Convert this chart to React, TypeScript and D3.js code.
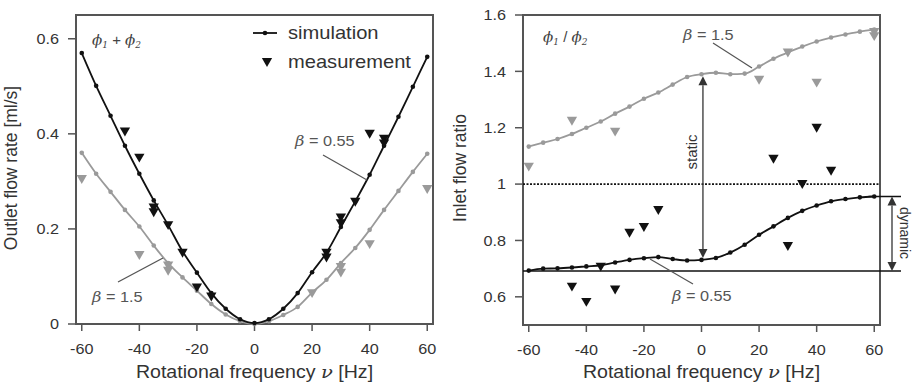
import * as d3 from "d3";

// rotational frequency samples for the simulations [Hz]
const freq = [-60, -55, -50, -45, -40, -35, -30, -25, -20, -15, -10, -5, 0, 5, 10, 15, 20, 25, 30, 35, 40, 45, 50, 55, 60];

// outlet flow rate phi1 + phi2 [ml/s]
const outSim055 = [0.57, 0.501, 0.438, 0.375, 0.316, 0.26, 0.208, 0.153, 0.108, 0.065, 0.032, 0.01, 0.002, 0.01, 0.032, 0.065, 0.109, 0.15, 0.204, 0.258, 0.314, 0.375, 0.436, 0.499, 0.562];
const outSim15 = [0.36, 0.316, 0.278, 0.24, 0.205, 0.165, 0.128, 0.098, 0.07, 0.042, 0.02, 0.006, 0.0, 0.006, 0.019, 0.036, 0.066, 0.093, 0.128, 0.16, 0.198, 0.24, 0.28, 0.32, 0.358];
const outMeasFreq055 = [-45, -40, -35, -35, -30, -25, -20, -15, 25, 25, 30, 30, 35, 40, 45, 45];
const outMeas055 = [0.405, 0.35, 0.245, 0.235, 0.208, 0.15, 0.077, 0.058, 0.15, 0.14, 0.224, 0.212, 0.257, 0.4, 0.39, 0.38];
const outMeasFreq15 = [-60, -40, -30, -30, 20, 30, 30, 40, 60];
const outMeas15 = [0.305, 0.145, 0.123, 0.112, 0.065, 0.12, 0.108, 0.168, 0.284];

// inlet flow ratio phi1 / phi2
const ratioSim15 = [1.133, 1.147, 1.16, 1.178, 1.2, 1.222, 1.25, 1.275, 1.303, 1.325, 1.353, 1.38, 1.39, 1.395, 1.39, 1.392, 1.417, 1.445, 1.467, 1.488, 1.506, 1.52, 1.531, 1.541, 1.548];
const ratioSim055 = [0.693, 0.7, 0.701, 0.704, 0.708, 0.712, 0.722, 0.731, 0.737, 0.741, 0.734, 0.729, 0.731, 0.738, 0.757, 0.785, 0.82, 0.85, 0.88, 0.905, 0.924, 0.939, 0.947, 0.953, 0.956];
const ratioMeasFreq15 = [-60, -45, -30, 20, 30, 40, 60, 60];
const ratioMeas15 = [1.062, 1.225, 1.186, 1.37, 1.467, 1.36, 1.525, 1.54];
const ratioMeasFreq055 = [-45, -40, -35, -30, -25, -20, -15, 25, 30, 35, 40, 45];
const ratioMeas055 = [0.636, 0.582, 0.707, 0.626, 0.827, 0.848, 0.908, 1.09, 0.78, 1.0, 1.2, 1.047];

const xTicks = [-60, -40, -20, 0, 20, 40, 60];
const outTicks = [0, 0.2, 0.4, 0.6];
const ratioTicks = [0.6, 0.8, 1, 1.2, 1.4, 1.6];

const BLACK = "#111";
const GRAY = "#9a9a9a";
const FRAME = "#555";
const TEXT = "#333";
const FONT = "'Liberation Sans', Arial, sans-serif";
const SERIF = "'DejaVu Serif', serif";
// the reference figure is a little wider than tall, so horizontal text gets stretched
const SX = 1.13;

const tri = d3.symbol(d3.symbolTriangle, 46)();

// horizontally stretched text
function HText({ x, y, size, anchor = "start", sx = SX, children, fill = TEXT, dy }: any) {
  return (
    <text transform={`translate(${x},${y}) scale(${sx},1)`} textAnchor={anchor} fontSize={size}
      fontFamily={FONT} fill={fill} dy={dy}>
      {children}
    </text>
  );
}

function Triangles({ xs, ys, x, y, color }: any) {
  return (
    <g fill={color}>
      {xs.map((v: number, i: number) => (
        <path key={i} d={tri!} transform={`translate(${x(v)},${y(ys[i]) - 1}) rotate(180)`} />
      ))}
    </g>
  );
}

function SimLine({ ys, x, y, color }: any) {
  const line = d3
    .line<number>()
    .x((_, i) => x(freq[i]))
    .y((d) => y(d))
    .curve(d3.curveMonotoneX);
  return (
    <g>
      <path d={line(ys)!} fill="none" stroke={color} strokeWidth={1.8} />
      {ys.map((v: number, i: number) => (
        <circle key={i} cx={x(freq[i])} cy={y(v)} r={2.3} fill={color} />
      ))}
    </g>
  );
}

function Frame({ x, y, ticks, fmt, left, right, top, bottom, title, titleX, titleY }: any) {
  return (
    <g>
      <rect x={left} y={top} width={right - left} height={bottom - top} fill="none" stroke={FRAME} strokeWidth={2} />
      {xTicks.map((t) => (
        <g key={t}>
          <line x1={x(t)} x2={x(t)} y1={bottom} y2={bottom + 7} stroke={FRAME} strokeWidth={1.5} />
          <HText x={x(t)} y={bottom + 30} size={15} anchor="middle" sx={1.08}>{t}</HText>
        </g>
      ))}
      {ticks.map((t: number) => (
        <g key={t}>
          <line x1={left - 8} x2={left} y1={y(t)} y2={y(t)} stroke={FRAME} strokeWidth={1.5} />
          <HText x={left - 17} y={y(t)} dy="0.35em" size={15} anchor="end" sx={1.08}>{fmt(t)}</HText>
        </g>
      ))}
      <HText x={(left + right) / 2} y={378} size={17.5} anchor="middle" sx={1.12}>
        Rotational frequency <tspan fontStyle="italic" fontFamily={SERIF}>ν</tspan> [Hz]
      </HText>
      <text transform={`translate(${titleX},${titleY}) rotate(-90)`} textAnchor="middle" fontSize={17.5}
        fontFamily={FONT} fill={TEXT}>
        {title}
      </text>
    </g>
  );
}

function Beta({ x, y, value }: any) {
  return (
    <HText x={x} y={y} size={15.5} fill="#555" dy="0.35em" sx={1.05}>
      <tspan fontStyle="italic" fontFamily={SERIF}>β</tspan> = {value}
    </HText>
  );
}

function Phi({ x, y, op }: any) {
  return (
    <text x={x} y={y} fontFamily={SERIF} fontSize={15} fill="#444" fontStyle="italic">
      ϕ<tspan fontSize={9} dy={3}>1</tspan>
      <tspan dy={-3} fontStyle="normal" fontFamily={FONT}> {op} </tspan>ϕ<tspan fontSize={9} dy={3}>2</tspan>
    </text>
  );
}

function Arrow({ x, y1, y2, color }: any) {
  const h = 9;
  const w = 4.5;
  return (
    <g fill={color} stroke={color}>
      <line x1={x} x2={x} y1={y1 + h} y2={y2 - h} strokeWidth={1.3} />
      <path d={`M${x},${y1}L${x - w},${y1 + h}L${x + w},${y1 + h}Z`} stroke="none" />
      <path d={`M${x},${y2}L${x - w},${y2 - h}L${x + w},${y2 - h}Z`} stroke="none" />
    </g>
  );
}

export default function App() {
  const top = 15;
  const bottom = 324;

  const xL = d3.scaleLinear().domain([-62, 62]).range([76, 433]);
  const yL = d3.scaleLinear().domain([0, 0.65]).range([bottom, top]);
  const xR = d3.scaleLinear().domain([-62, 62]).range([523, 880]);
  const yR = d3.scaleLinear().domain([0.5, 1.6]).range([bottom + 1, top]);

  return (
    <svg width={912} height={384} style={{ position: "absolute", left: 0, top: 0, background: "#fff" }}>
      {/* left panel: outlet flow rate */}
      <Frame x={xL} y={yL} ticks={outTicks} fmt={(t: number) => (t === 0 ? "0" : t.toFixed(1))}
        left={76} right={433} top={top} bottom={bottom} title="Outlet flow rate [ml/s]" titleX={17} titleY={168} />
      <SimLine ys={outSim15} x={xL} y={yL} color={GRAY} />
      <SimLine ys={outSim055} x={xL} y={yL} color={BLACK} />
      <Triangles xs={outMeasFreq15} ys={outMeas15} x={xL} y={yL} color={GRAY} />
      <Triangles xs={outMeasFreq055} ys={outMeas055} x={xL} y={yL} color={BLACK} />
      <Phi x={92} y={45} op="+" />
      <g>
        <line x1={253} x2={277} y1={33} y2={33} stroke={BLACK} strokeWidth={1.8} />
        <circle cx={265} cy={33} r={2.3} fill={BLACK} />
        <HText x={288} y={33} dy="0.35em" size={17.5} sx={1.15}>simulation</HText>
        <path d={tri!} transform={`translate(267,61) rotate(180)`} fill={BLACK} />
        <HText x={288} y={62} dy="0.35em" size={17.5} sx={1.15}>measurement</HText>
      </g>
      <Beta x={295} y={141} value="0.55" />
      <line x1={323} y1={155} x2={367} y2={180} stroke="#555" strokeWidth={1.2} />
      <Beta x={92} y={297} value="1.5" />
      <line x1={118} y1={282} x2={163} y2={258} stroke="#555" strokeWidth={1.2} />

      {/* right panel: inlet flow ratio */}
      <Frame x={xR} y={yR} ticks={ratioTicks} fmt={(t: number) => (t === 1 ? "1" : t.toFixed(1))}
        left={523} right={880} top={top} bottom={bottom + 1} title="Inlet flow ratio" titleX={466} titleY={168} />
      <line x1={523} x2={880} y1={yR(1)} y2={yR(1)} stroke={BLACK} strokeWidth={1.6} strokeDasharray="2,1.5" />
      <line x1={523} x2={901} y1={yR(0.692)} y2={yR(0.692)} stroke={BLACK} strokeWidth={1.5} />
      <line x1={xR(58)} x2={901} y1={yR(0.956)} y2={yR(0.956)} stroke={BLACK} strokeWidth={1.5} />
      <SimLine ys={ratioSim15} x={xR} y={yR} color={GRAY} />
      <SimLine ys={ratioSim055} x={xR} y={yR} color={BLACK} />
      <Triangles xs={ratioMeasFreq15} ys={ratioMeas15} x={xR} y={yR} color={GRAY} />
      <Triangles xs={ratioMeasFreq055} ys={ratioMeas055} x={xR} y={yR} color={BLACK} />
      <Phi x={543} y={42} op="/" />
      <Arrow x={xR(0.5)} y1={yR(1.383)} y2={yR(0.738)} color="#333" />
      <text transform={`translate(${xR(0.5) - 6},152) rotate(-90)`} textAnchor="middle" fontFamily={FONT} fontSize={15} fill={TEXT}>
        static
      </text>
      <Arrow x={892} y1={yR(0.956)} y2={yR(0.692)} color="#333" />
      <text transform={`translate(900,233) rotate(90)`} textAnchor="middle" fontFamily={FONT} fontSize={14} fill={TEXT}>
        dynamic
      </text>
      <Beta x={683} y={35} value="1.5" />
      <line x1={713} y1={43} x2={752} y2={68} stroke="#555" strokeWidth={1.2} />
      <Beta x={672} y={296} value="0.55" />
      <line x1={650} y1={259} x2={693} y2={284} stroke="#555" strokeWidth={1.2} />
    </svg>
  );
}
